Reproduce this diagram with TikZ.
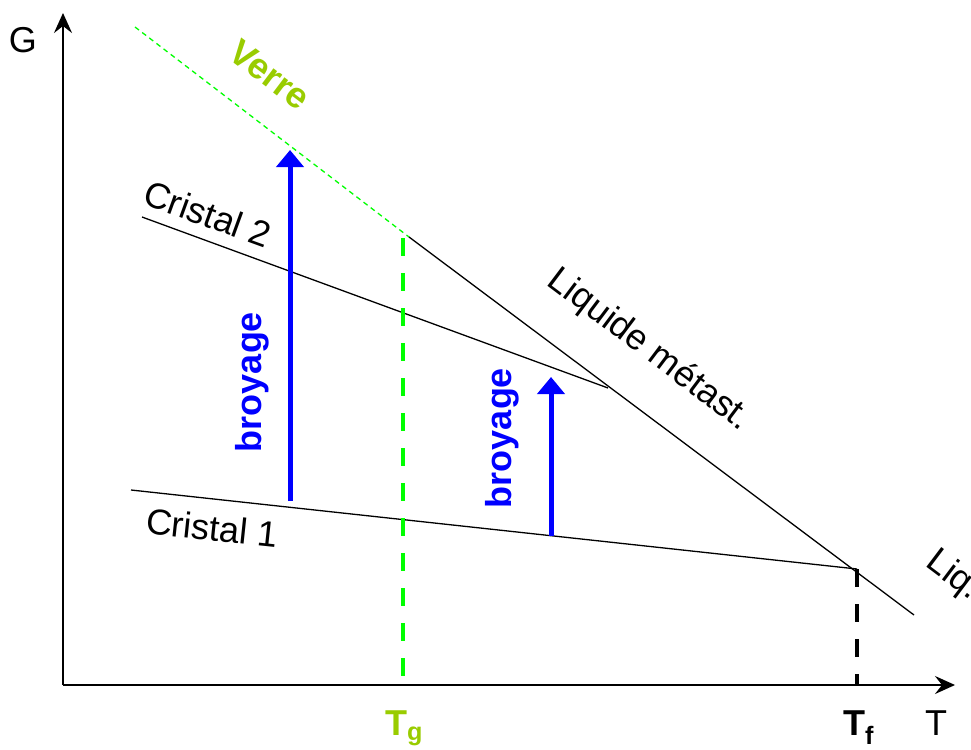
\documentclass[tikz,border=0pt]{standalone}
\usepackage{fontspec}
\setmainfont{Liberation Sans}
\usetikzlibrary{arrows.meta}
\definecolor{verre}{RGB}{153,204,0}
\definecolor{vert}{RGB}{0,255,0}
\begin{document}
\begin{tikzpicture}[x=1pt,y=-1pt,
  lbl/.style={font=\fontsize{36}{42}\selectfont, inner sep=0pt},
  blbl/.style={font=\fontsize{36}{42}\selectfont\bfseries, inner sep=0pt},
  thinline/.style={line width=1.3pt},
  axisline/.style={line width=2pt, -{Stealth[length=20pt,width=18pt,inset=7pt]}},
  broy/.style={line width=5pt, blue, -{Triangle[length=17pt,width=27pt]}},
  glassline/.style={line width=1.3pt, vert, dash pattern=on 5pt off 4pt},
  tgline/.style={line width=4pt, vert, dash pattern=on 18pt off 17pt},
  tfline/.style={line width=4pt, black, dash pattern=on 18pt off 17pt}]
\clip (0,0) rectangle (971,749);
% coordinates
\coordinate (O) at (63,685);
\coordinate (Gtip) at (63,13);
\coordinate (Ttip) at (955,685);
\coordinate (V0) at (135,27);
\coordinate (Vtop) at (409,237);
\coordinate (Lend) at (914,615);
\coordinate (C1a) at (131,490);
\coordinate (Tfpt) at (857,569);
\coordinate (Tfbot) at (857,685);
\coordinate (C2a) at (142,217);
\coordinate (C2b) at (608,388);
\coordinate (Tgtop) at (403,238);
\coordinate (Tgbot) at (403,685);
\coordinate (A1s) at (290,501);
\coordinate (A1e) at (290,150);
\coordinate (A2s) at (551,536);
\coordinate (A2e) at (551,377);
% axes
\draw[axisline] (O) -- (Gtip);
\draw[axisline] (O) -- (Ttip);
% curves
\draw[glassline] (V0) -- (Vtop);
\draw[thinline] (Vtop) -- (Lend);
\draw[thinline] (C1a) -- (Tfpt);
\draw[thinline] (C2a) -- (C2b);
\draw[tgline] (Tgtop) -- (Tgbot);
\draw[tfline] (Tfpt) -- (Tfbot);
% arrows
\draw[broy] (A1s) -- (A1e);
\draw[broy] (A2s) -- (A2e);
% labels
\node[lbl] (G) at (23,40) {G};
\node[lbl, anchor=base] (T) at (936,735) {T};
\node[blbl, anchor=base west, text=verre] (Tg) at (385,735) {T\textsubscript{g}};
\node[blbl, anchor=base west] (Tf) at (843,735) {T\textsubscript{f}};
\node[blbl, text=verre, rotate=-37] (verre) at (270,75) {Verre};
\node[lbl, rotate=-20] (c2) at (208,214) {Cristal 2};
\node[lbl, rotate=-6] (c1) at (212,528) {Cristal 1};
\node[lbl, rotate=-37] (liqm) at (649,350) {Liquide métast.};
\node[lbl, rotate=-37] (liq) at (953,576) {Liq.};
\node[blbl, text=blue, rotate=90] (b1) at (252,382) {broyage};
\node[blbl, text=blue, rotate=90] (b2) at (502,438) {broyage};
\end{tikzpicture}
\end{document}
